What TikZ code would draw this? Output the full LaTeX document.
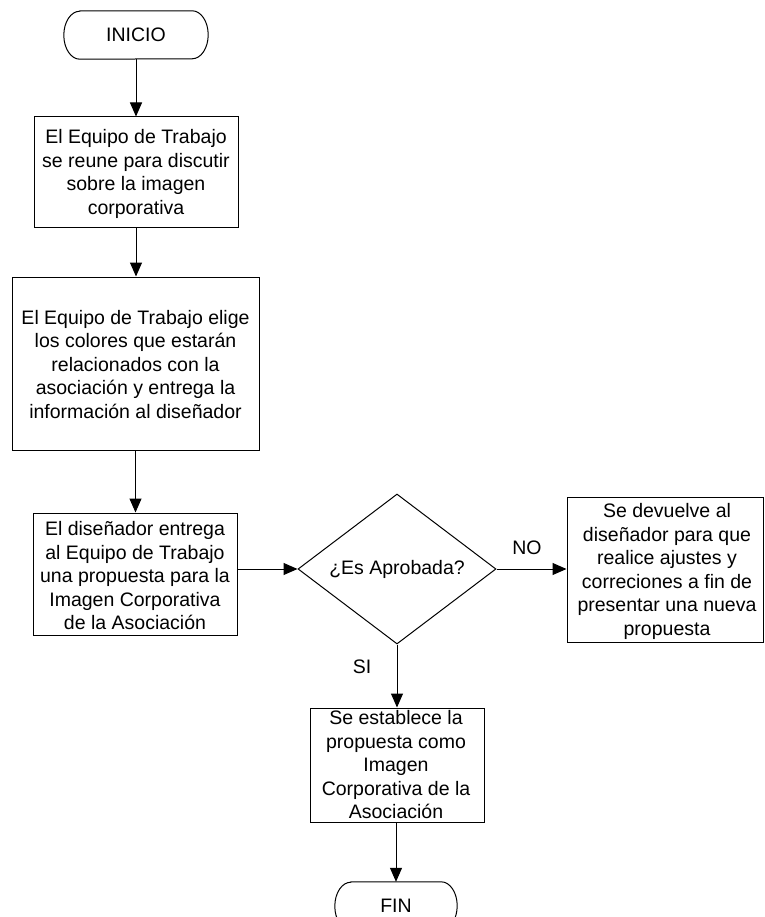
\documentclass[tikz,border=0pt]{standalone}
\usepackage{fontspec}
\setmainfont{Liberation Sans}
\usetikzlibrary{arrows.meta,shapes.geometric}
\begin{document}
\begin{tikzpicture}[x=1pt,y=-1pt,
  box/.style={draw, line width=1pt, inner sep=0pt},
  txt/.style={align=center, inner sep=0pt, font=\fontsize{19.5}{23.5}\selectfont},
  arr/.style={line width=1pt, -{Triangle[length=14pt,width=12pt]}},
  lbl/.style={inner sep=0pt, font=\fontsize{19.5}{23.5}\selectfont},
  term/.style={minimum height=48pt, inner sep=0pt, font=\fontsize{19.5}{23.5}\selectfont},
  termline/.style={line width=1pt},
  dec/.style={draw, line width=1pt, shape=diamond, aspect=1.32, inner sep=0pt,
    minimum width=198pt, minimum height=150pt, font=\fontsize{19.5}{23.5}\selectfont}
]
\clip (0,0) rectangle (764,917);
\fill[white] (0,0) rectangle (764,917);

% start terminator
\node[term, minimum width=112pt] (start) at (136,35) {INICIO};
\draw[termline] (start.north west) -- (start.north east)
  arc[start angle=90, end angle=-90, x radius=16pt, y radius=24pt]
  -- (start.south west)
  arc[start angle=270, end angle=90, x radius=16pt, y radius=24pt] -- cycle;

% box 1
\node[box, minimum width=204pt, minimum height=111pt] (b1) at (136,172.5) {};
\node[txt] (t1) at (136,174) {El Equipo de Trabajo\\se reune para discutir\\sobre la imagen\\corporativa};

% box 2
\node[box, minimum width=247pt, minimum height=173pt] (b2) at (135.5,363.5) {};
\node[txt] (t2) at (135.5,364.5) {El Equipo de Trabajo elige\\los colores que estarán\\relacionados con la\\asociación y entrega la\\información al diseñador};

% box 3
\node[box, minimum width=204pt, minimum height=122pt] (b3) at (135,574) {};
\node[txt] (t3) at (135,576) {El diseñador entrega\\al Equipo de Trabajo\\una propuesta para la\\Imagen Corporativa\\de la Asociación};

% decision
\node[dec] (d) at (397,569) {¿Es Aprobada?};

% right box
\node[box, minimum width=196pt, minimum height=145pt] (rb) at (665,569.5) {};
\node[txt] (trb) at (667,571.5) {Se devuelve al\\diseñador para que\\realice ajustes y\\correciones a fin de\\presentar una nueva\\propuesta};

% bottom box
\node[box, minimum width=174pt, minimum height=114pt] (bb) at (397,765) {};
\node[txt] (tbb) at (396,765) {Se establece la\\propuesta como\\Imagen\\Corporativa de la\\Asociación};

% end terminator
\node[term, minimum width=90pt] (fin) at (396,906) {FIN};
\draw[termline] (fin.north west) -- (fin.north east)
  arc[start angle=90, end angle=-90, x radius=16pt, y radius=24pt]
  -- (fin.south west)
  arc[start angle=270, end angle=90, x radius=16pt, y radius=24pt] -- cycle;

% connectors
\draw[arr] (start.south) -- (start.south |- b1.north);
\draw[arr] (b1.south) -- (b1.south |- b2.north);
\draw[arr] (b2.south) -- (b2.south |- b3.north);
\draw[arr] (b3.east |- d.west) -- (d.west);
\draw[arr] (d.east) -- (d.east -| rb.west);
\draw[arr] (d.south) -- (d.south |- bb.north);
\draw[arr] (bb.south -| fin.north) -- (fin.north);

% labels
\node[lbl] (no) at (527,548) {NO};
\node[lbl] (si) at (362,667) {SI};
\end{tikzpicture}
\end{document}
